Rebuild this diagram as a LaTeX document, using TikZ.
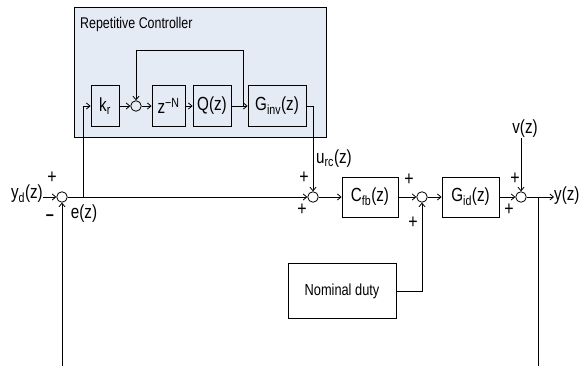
\documentclass[tikz,border=0pt]{standalone}
\usepackage{fontspec}
\setmainfont[FakeStretch=0.8]{Liberation Sans}
\usetikzlibrary{arrows.meta, positioning}
\definecolor{rcfill}{RGB}{229,235,245}
\tikzset{
  blk/.style={draw, line width=0.9pt, minimum height=41pt, inner sep=1pt, font=\fontsize{19}{21}\selectfont},
  sumpt/.style={draw, circle, line width=0.8pt, minimum size=10.5pt, inner sep=0pt},
  sig/.style={font=\fontsize{20}{21}\selectfont, inner sep=0pt},
  lbl/.style={font=\fontsize{19}{21}\selectfont, inner sep=0pt},
  arr/.style={-{Straight Barb[length=3.5pt,width=6pt]}, line width=0.8pt},
  ln/.style={line width=0.8pt}
}
\begin{document}
\begin{tikzpicture}[x=1pt, y=-1pt]
    \useasboundingbox (0,0) rectangle (579,366);
    % repetitive controller
    \node[draw, fill=rcfill, line width=1pt, minimum width=252pt, minimum height=130pt, anchor=north west] (rc) at (74,7) {};
    \node[anchor=west, font=\fontsize{15.5}{17}\selectfont, inner sep=0pt] (rctitle) at (80,24) {Repetitive Controller};
    \node[blk, minimum width=28pt] (kr) at (105,106) {k\textsubscript{r}};
    \node[sumpt] (s1) at (136,106) {};
    \node[blk, minimum width=33pt] (zn) at (168.5,106) {z\textsuperscript{−N}};
    \node[blk, minimum width=38pt] (q) at (212,106) {Q(z)};
    \node[blk, minimum width=58pt] (ginv) at (277,106) {G\textsubscript{inv}(z)};
    % main loop
    \node[sumpt] (s0) at (62,197) {};
    \node[sumpt] (s2) at (313,197) {};
    \node[blk, minimum width=56pt, minimum height=40pt] (cfb) at (370,197) {C\textsubscript{fb}(z)};
    \node[sumpt] (s3) at (422,197) {};
    \node[blk, minimum width=57pt, minimum height=40pt] (gid) at (470.5,197) {G\textsubscript{id}(z)};
    \node[sumpt] (s4) at (521,197) {};
    \node[draw, line width=0.9pt, minimum width=108pt, minimum height=55pt, font=\fontsize{16}{18}\selectfont] (nom) at (342,291) {Nominal duty};
    % signals
    \node[lbl, anchor=east] (yd) at (43,194) {y\textsubscript{d}(z)};
    \node[lbl] (ez) at (84,214) {e(z)};
    \node[lbl] (urc) at (334,159) {u\textsubscript{rc}(z)};
    \node[lbl] (vz) at (525,129) {v(z)};
    \node[lbl, anchor=west] (yz) at (554,196) {y(z)};
    % signs
    \node[sig] (p0) at (52,178) {+};
    \node[sig, font=\fontsize{18}{19}\selectfont\bfseries] (m0) at (50,218) {–};
    \node[sig] (p2a) at (304,178) {+};
    \node[sig] (p2b) at (302,210) {+};
    \node[sig] (p3a) at (409,180) {+};
    \node[sig] (p3b) at (413,223) {+};
    \node[sig] (p4a) at (515,179) {+};
    \node[sig] (p4b) at (509,210) {+};

    \coordinate (tapl) at (83,197);
    \coordinate (qtap) at (243,106);
    \coordinate (loop) at (243,50);
    \coordinate (ytap) at (538,197);
    \coordinate (fbl) at (62,366);
    \coordinate (fbr) at (538,366);

    \draw[arr] (yd.east |- s0) -- (s0.west);
    \draw[arr] (fbl) -- (s0.south);
    \draw[arr] (s0) -- (s2);
    \draw[arr] (tapl) |- (kr.west);
    \draw[arr] (kr) -- (s1);
    \draw[arr] (s1) -- (zn);
    \draw[arr] (zn) -- (q);
    \draw[arr] (q) -- (ginv);
    \draw[arr] (qtap) -- (loop) -| (s1.north);
    \draw[arr] (ginv.east) -| (s2.north);
    \draw[arr] (s2) -- (cfb);
    \draw[arr] (cfb) -- (s3);
    \draw[arr] (s3) -- (gid);
    \draw[arr] (gid) -- (s4);
    \draw[arr] (s4) -- (yz.west |- s4);
    \draw[arr] (vz.south -| s4) -- (s4.north);
    \draw[arr] (nom.east) -| (s3.south);
    \draw[ln] (ytap) -- (fbr);
  \end{tikzpicture}
\end{document}
